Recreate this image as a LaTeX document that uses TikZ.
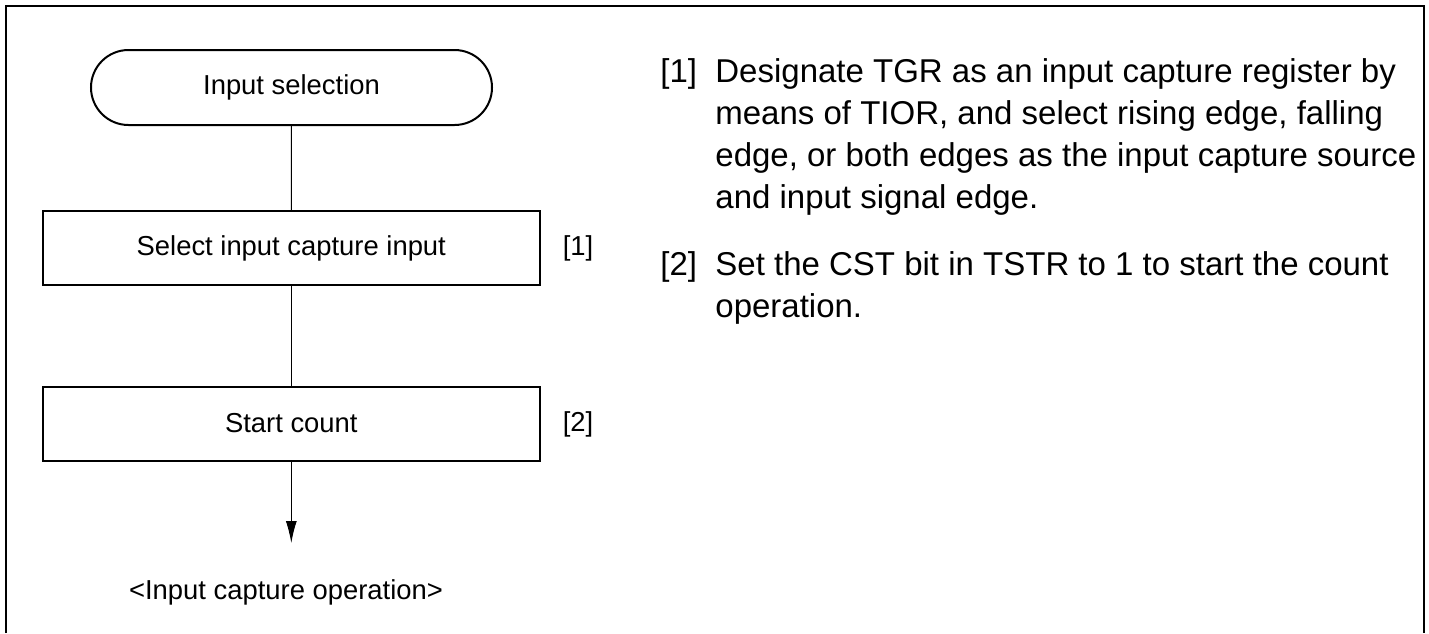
\documentclass[tikz,border=0pt]{standalone}
\usepackage{fontspec}
\setmainfont{Liberation Sans}
\usetikzlibrary{arrows.meta}
\begin{document}
\begin{tikzpicture}[x=0.5pt,y=-0.5pt,
  txt/.style={font=\fontsize{13.7}{20.5}\selectfont, inner sep=0pt},
  desc/.style={font=\fontsize{16.5}{21}\selectfont, inner sep=0pt, anchor=base west},
  termbox/.style={draw, line width=1pt, rounded corners=18.75pt, minimum width=200.5pt, minimum height=37.5pt, txt},
  stepbox/.style={draw, line width=1pt, minimum width=248.5pt, minimum height=37pt, txt},
  flow/.style={line width=0.5pt},
  flowarrow/.style={line width=0.5pt, -{Latex[length=11pt,width=5.5pt]}}]
\useasboundingbox (0,0) rectangle (1429,633);
\draw[line width=1pt] (6,633) -- (6,6) -- (1424,6) -- (1424,633);
\node[termbox] (start) at (291.5,87.5) {Input selection};
\node[stepbox] (s1) at (291.3,248) {Select input capture input};
\node[stepbox] (s2) at (291.3,423.5) {Start count};
\node[txt] (l1) at (578,248) {[1]};
\node[txt] (l2) at (578,424) {[2]};
\coordinate (tip) at (291.3,543);
\node[txt] (end) at (286,592) {<Input capture operation>};
\draw[flow] (start) -- (s1);
\draw[flow] (s1) -- (s2);
\draw[flowarrow] (s2) -- (tip);
\node[desc] (n1) at (660,82) {[1]};
\node[desc] (d1a) at (715,82) {Designate TGR as an input capture register by};
\node[desc] (d1b) at (715,124) {means of TIOR, and select rising edge, falling};
\node[desc] (d1c) at (715,166) {edge, or both edges as the input capture source};
\node[desc] (d1d) at (715,208) {and input signal edge.};
\node[desc] (n2) at (660,275) {[2]};
\node[desc] (d2a) at (715,275) {Set the CST bit in TSTR to 1 to start the count};
\node[desc] (d2b) at (715,317) {operation.};
\end{tikzpicture}
\end{document}
